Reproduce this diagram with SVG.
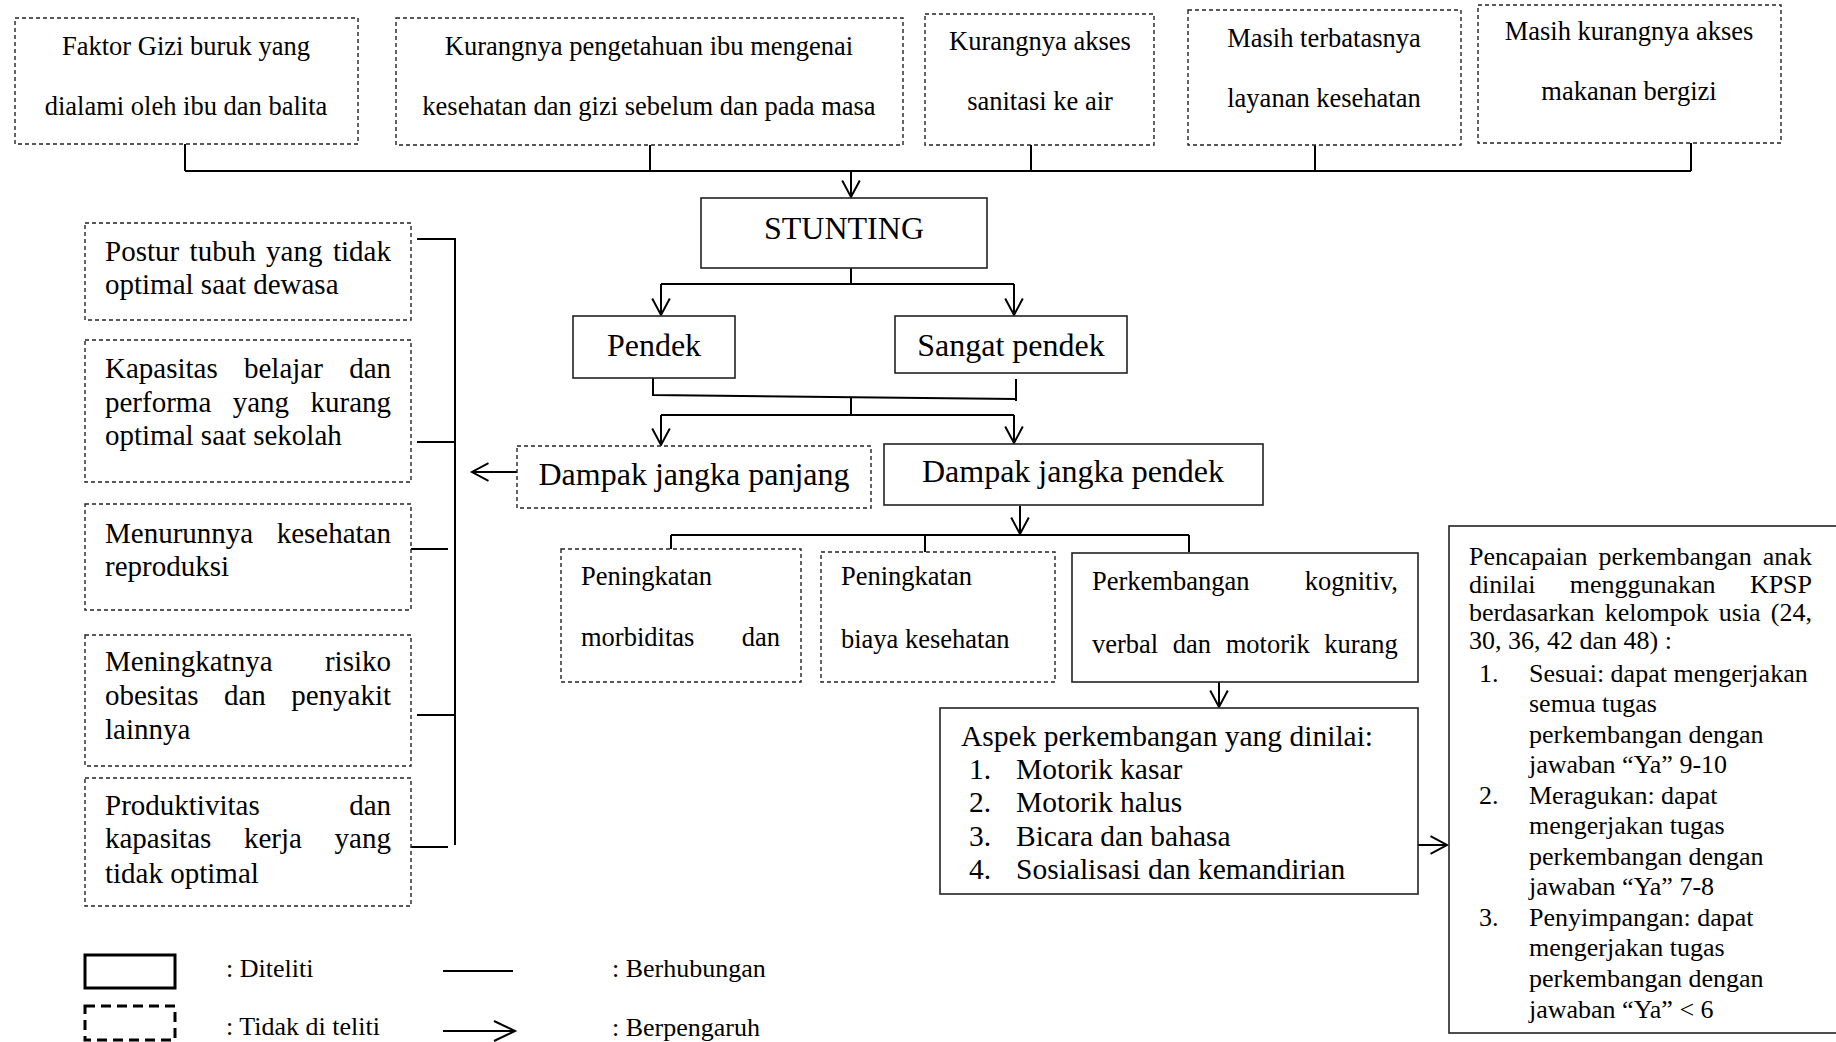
<svg xmlns="http://www.w3.org/2000/svg" width="1836" height="1042" viewBox="0 0 1836 1042">
<style>
text{font-family:"Liberation Serif","Times New Roman",serif;fill:#000}
.t26{font-size:26.5px}
.t29{font-size:29px}
.t32{font-size:32px}
.k{font-size:26px}
.lg{font-size:26px}
.c{text-anchor:middle}
.e{text-anchor:end}
.dash{fill:#fff;stroke:#222;stroke-width:1.4;stroke-dasharray:4 3}
.solid{fill:#fff;stroke:#222;stroke-width:1.6}
.ln{fill:none;stroke:#000;stroke-width:2}
.ar{fill:none;stroke:#000;stroke-width:2;marker-end:url(#ah)}
</style>
<defs>
<marker id="ah" markerUnits="userSpaceOnUse" markerWidth="22" markerHeight="22" viewBox="-17 -10 20 20" refX="0" refY="0" orient="auto">
<path d="M-15,-8 L0,0 L-15,8" fill="none" stroke="#000" stroke-width="1.8"/>
</marker>
<marker id="ahL" markerUnits="userSpaceOnUse" markerWidth="26" markerHeight="26" viewBox="-23 -12 26 24" refX="0" refY="0" orient="auto">
<path d="M-21,-10 L0,0 L-21,10" fill="none" stroke="#000" stroke-width="2"/>
</marker>
</defs>
<rect width="1836" height="1042" fill="#fff"/>

<g id="connectors">
<path class="ln" d="M185,144 V171 M650,145 V171 M1031,145 V171 M1315,145 V171 M1691,143 V171 M185,171 H1691"/>
<line class="ar" x1="851" y1="171" x2="851" y2="197"/>
<path class="ln" d="M851,268 V284 M661,284 H1014"/>
<line class="ar" x1="661" y1="284" x2="661" y2="315"/>
<line class="ar" x1="1014" y1="284" x2="1014" y2="315"/>
<path class="ln" d="M653,378 V395 L1016,399 M1016,379 V401 M851,397 V415 M661,415 H1014"/>
<line class="ar" x1="661" y1="415" x2="661" y2="445"/>
<line class="ar" x1="1014" y1="415" x2="1014" y2="443"/>
<line class="ar" x1="517" y1="472" x2="472" y2="472"/>
<path class="ln" d="M417,239 H455 V845 M417,442 H455 M411,549 H448 M417,715 H455 M411,847 H448"/>
<line class="ar" x1="1020" y1="506" x2="1020" y2="534"/>
<path class="ln" d="M671,535 H1189 M671,535 V550 M925,535 V552 M1189,535 V552"/>
<line class="ar" x1="1219" y1="682" x2="1219" y2="707"/>
<line class="ar" x1="1418" y1="845" x2="1447" y2="845"/>
</g>

<g id="n-faktor">
<rect class="dash" x="15" y="18" width="343" height="126"/>
<text class="t26 c" x="186" y="55">Faktor Gizi buruk yang</text>
<text class="t26 c" x="186" y="115">dialami oleh ibu dan balita</text>
</g>
<g id="n-pengetahuan">
<rect class="dash" x="396" y="18" width="507" height="127"/>
<text class="t26 c" x="649" y="55">Kurangnya pengetahuan ibu mengenai</text>
<text class="t26 c" x="649" y="115">kesehatan dan gizi sebelum dan pada masa</text>
</g>
<g id="n-sanitasi">
<rect class="dash" x="925" y="14" width="229" height="131"/>
<text class="t26 c" x="1040" y="50">Kurangnya akses</text>
<text class="t26 c" x="1040" y="110">sanitasi ke air</text>
</g>
<g id="n-layanan">
<rect class="dash" x="1188" y="10" width="273" height="135"/>
<text class="t26 c" x="1324" y="47">Masih terbatasnya</text>
<text class="t26 c" x="1324" y="107">layanan kesehatan</text>
</g>
<g id="n-makanan">
<rect class="dash" x="1478" y="5" width="303" height="138"/>
<text class="t26 c" x="1629" y="40">Masih kurangnya akses</text>
<text class="t26 c" x="1629" y="100">makanan bergizi</text>
</g>

<g id="n-stunting">
<rect class="solid" x="701" y="198" width="286" height="70"/>
<text class="t32 c" x="844" y="239">STUNTING</text>
</g>
<g id="n-pendek">
<rect class="solid" x="573" y="316" width="162" height="62"/>
<text class="t32 c" x="654" y="356">Pendek</text>
</g>
<g id="n-sangat">
<rect class="solid" x="895" y="316" width="232" height="57"/>
<text class="t32 c" x="1011" y="356">Sangat pendek</text>
</g>
<g id="n-panjang">
<rect class="dash" x="517" y="446" width="354" height="62"/>
<text class="t32 c" x="694" y="485">Dampak jangka panjang</text>
</g>
<g id="n-dpendek">
<rect class="solid" x="884" y="444" width="379" height="61"/>
<text class="t32 c" x="1073" y="482">Dampak jangka pendek</text>
</g>

<g id="n-postur">
<rect class="dash" x="85" y="223" width="326" height="97"/>
<text class="t29" x="105" y="261" word-spacing="3.2">Postur tubuh yang tidak</text>
<text class="t29" x="105" y="294">optimal saat dewasa</text>
</g>
<g id="n-kapasitas">
<rect class="dash" x="85" y="340" width="326" height="142"/>
<text class="t29" x="105" y="378" word-spacing="19">Kapasitas belajar dan</text>
<text class="t29" x="105" y="412" word-spacing="14.2">performa yang kurang</text>
<text class="t29" x="105" y="445">optimal saat sekolah</text>
</g>
<g id="n-reproduksi">
<rect class="dash" x="85" y="504" width="326" height="106"/>
<text class="t29" x="105" y="543">Menurunnya</text>
<text class="t29 e" x="391" y="543">kesehatan</text>
<text class="t29" x="105" y="576">reproduksi</text>
</g>
<g id="n-obesitas">
<rect class="dash" x="85" y="635" width="326" height="131"/>
<text class="t29" x="105" y="671">Meningkatnya</text>
<text class="t29 e" x="391" y="671">risiko</text>
<text class="t29" x="105" y="705" word-spacing="18.2">obesitas dan penyakit</text>
<text class="t29" x="105" y="739">lainnya</text>
</g>
<g id="n-produktivitas">
<rect class="dash" x="85" y="778" width="326" height="128"/>
<text class="t29" x="105" y="815">Produktivitas</text>
<text class="t29 e" x="391" y="815">dan</text>
<text class="t29" x="105" y="848" word-spacing="25.4">kapasitas kerja yang</text>
<text class="t29" x="105" y="883">tidak optimal</text>
</g>

<g id="n-morbiditas">
<rect class="dash" x="561" y="549" width="240" height="133"/>
<text class="t26" x="581" y="585">Peningkatan</text>
<text class="t26" x="581" y="646">morbiditas</text>
<text class="t26 e" x="780" y="646">dan</text>
</g>
<g id="n-biaya">
<rect class="dash" x="821" y="552" width="234" height="130"/>
<text class="t26" x="841" y="585">Peningkatan</text>
<text class="t26" x="841" y="648">biaya kesehatan</text>
</g>
<g id="n-perkembangan">
<rect class="solid" x="1072" y="553" width="346" height="129"/>
<text class="t26" x="1092" y="590">Perkembangan</text>
<text class="t26 e" x="1398" y="590">kognitiv,</text>
<text class="t26" x="1092" y="653" word-spacing="8">verbal dan motorik kurang</text>
</g>
<g id="n-aspek">
<rect class="solid" x="940" y="708" width="478" height="186"/>
<text class="t29" x="961" y="746" style="font-size:29.5px">Aspek perkembangan yang dinilai:</text>
<g style="font-size:29.5px">
<text x="969" y="779">1.</text><text x="1016" y="779">Motorik kasar</text>
<text x="969" y="812">2.</text><text x="1016" y="812">Motorik halus</text>
<text x="969" y="846">3.</text><text x="1016" y="846">Bicara dan bahasa</text>
<text x="969" y="879">4.</text><text x="1016" y="879">Sosialisasi dan kemandirian</text>
</g>
</g>
<g id="n-kpsp">
<rect class="solid" x="1449" y="526" width="400" height="507"/>
<g class="k">
<text x="1469" y="565" word-spacing="4.7">Pencapaian perkembangan anak</text>
<text x="1469" y="593" word-spacing="27.8">dinilai menggunakan KPSP</text>
<text x="1469" y="621" word-spacing="3.6">berdasarkan kelompok usia (24,</text>
<text x="1469" y="649">30, 36, 42 dan 48) :</text>
<text x="1479" y="682">1.</text><text x="1529" y="682">Sesuai: dapat mengerjakan</text>
<text x="1529" y="712">semua tugas</text>
<text x="1529" y="743">perkembangan dengan</text>
<text x="1529" y="773">jawaban “Ya” 9-10</text>
<text x="1479" y="804">2.</text><text x="1529" y="804">Meragukan: dapat</text>
<text x="1529" y="834">mengerjakan tugas</text>
<text x="1529" y="865">perkembangan dengan</text>
<text x="1529" y="895">jawaban “Ya” 7-8</text>
<text x="1479" y="926">3.</text><text x="1529" y="926">Penyimpangan: dapat</text>
<text x="1529" y="956">mengerjakan tugas</text>
<text x="1529" y="987">perkembangan dengan</text>
<text x="1529" y="1018">jawaban  “Ya” &lt; 6</text>
</g>
</g>

<g id="legend">
<rect x="85" y="955" width="90" height="33" fill="#fff" stroke="#000" stroke-width="3"/>
<rect x="85" y="1006" width="90" height="34" fill="#fff" stroke="#000" stroke-width="3" stroke-dasharray="10 6"/>
<text class="lg" x="226" y="977">: Diteliti</text>
<text class="lg" x="226" y="1035">: Tidak di teliti</text>
<line x1="443" y1="971" x2="513" y2="971" stroke="#000" stroke-width="2"/>
<line x1="443" y1="1031" x2="515" y2="1031" stroke="#000" stroke-width="2" marker-end="url(#ahL)"/>
<text class="lg" x="612" y="977">: Berhubungan</text>
<text class="lg" x="612" y="1036">: Berpengaruh</text>
</g>
</svg>
